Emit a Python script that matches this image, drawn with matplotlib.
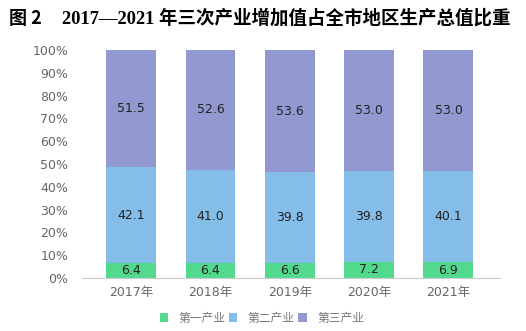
import matplotlib
matplotlib.use("Agg")
import matplotlib.pyplot as plt
import numpy as np

plt.rcParams['font.family'] = ['DejaVu Sans', 'Noto Sans CJK SC']

years = ['2017年', '2018年', '2019年', '2020年', '2021年']
primary = [6.4, 6.4, 6.6, 7.2, 6.9]
secondary = [42.1, 41.0, 39.8, 39.8, 40.1]
tertiary = [51.5, 52.6, 53.6, 53.0, 53.0]
series_names = ['第一产业', '第二产业', '第三产业']
colors = ['#52d98e', '#85bde9', '#9298d0']

fig = plt.figure(figsize=(5.26, 3.31), dpi=100)
ax = fig.add_axes([82/526, 1 - 278/331, 418/526, 228/331])

x = np.arange(len(years))
bottom = np.zeros(len(years))
for vals, name, c in zip([primary, secondary, tertiary], series_names, colors):
    vals = np.array(vals)
    bars = ax.bar(x, vals, 0.63, bottom=bottom, color=c, label=name)
    for xi, b, v in zip(x, bottom, vals):
        ax.text(xi, b + v / 2, f'{v:.1f}', ha='center', va='center', fontsize=9, color='#222222')
    bottom += vals

ax.set_ylim(0, 100)
ax.set_xlim(-0.62, 4.65)
ax.set_yticks(np.arange(0, 101, 10))
ax.set_yticklabels([f'{v}%' for v in range(0, 101, 10)])
ax.set_xticks(x)
ax.set_xticklabels(years, family=['DejaVu Sans', 'Noto Sans CJK SC'])
ax.tick_params(axis='both', length=0, labelsize=9, labelcolor='#666666')
ax.tick_params(axis='y', pad=10)
ax.tick_params(axis='x', pad=6)
for s in ['top', 'right', 'left']:
    ax.spines[s].set_visible(False)
ax.spines['bottom'].set_color('#cccccc')

handles, labels = ax.get_legend_handles_labels()
leg = fig.legend(handles, labels, loc='center', bbox_to_anchor=(262/526, 1 - 318/331), ncol=3,
                 frameon=False, handlelength=0.7, handleheight=0.7,
                 columnspacing=0.3, handletextpad=0.9,
                 prop={'family': ['Noto Sans CJK SC'], 'size': 8.5})
for t in leg.get_texts():
    t.set_color('#777777')

fig.text(9/526, 1 - 18/331, '图 2', fontsize=13, fontweight='bold',
         family=['Noto Sans CJK SC'], va='center', ha='left')
fig.text(62/526, 1 - 18/331, '2017—2021 年三次产业增加值占全市地区生产总值比重', fontsize=13.3,
         fontweight='bold', family=['Liberation Serif', 'Noto Sans CJK SC'], va='center', ha='left')

fig.savefig('out.png', dpi=100)
